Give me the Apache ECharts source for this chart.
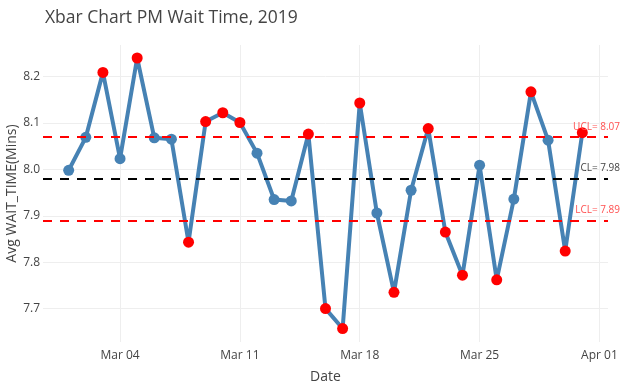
<!DOCTYPE html>
<html><head><meta charset="utf-8">
<script src="https://cdn.jsdelivr.net/npm/echarts@6/dist/echarts.min.js"></script>
<style>html,body{margin:0;padding:0;background:#fff}#c{width:624px;height:384px}</style>
</head><body><div id="c"></div>
<script>
// Day of March 2019 (Apr 01 = 32)
const days = [1,2,3,4,5,6,7,8,9,10,11,12,13,14,15,16,17,18,19,20,21,22,23,24,25,26,27,28,29,30,31];
const waitAvg = [7.998,8.069,8.209,8.023,8.240,8.068,8.065,7.843,8.103,8.122,8.101,8.035,7.935,7.932,8.076,7.700,7.657,8.143,7.906,7.735,7.955,8.088,7.865,7.772,8.009,7.762,7.936,8.167,8.063,7.824,8.079];
const UCL = 8.073, CL = 7.981, LCL = 7.889;
const xTickDays = [4,11,18,25,32];
const xTickLabels = ['Mar 04','Mar 11','Mar 18','Mar 25','Apr 01'];
const yTicks = [7.7,7.8,7.9,8.0,8.1,8.2];

const FONT = '"Open Sans", "Noto Sans", sans-serif';
const chart = echarts.init(document.getElementById('c'), null, {renderer:'canvas'});
const pts = days.map((d,i)=>[d, waitAvg[i]]);
const ctrlLine = (name, v, color, labelColor) => ({
  yAxis: v,
  lineStyle: {color: color, type: [9,8], width: 2},
  label: {show: true, position: 'insideEndTop', formatter: name + '= ' + v.toFixed(2),
    color: labelColor, fontSize: 10, fontFamily: FONT, offset: [14, -3], distance: 2}
});
chart.setOption({
  animation: false,
  backgroundColor: '#fff',
  title: {text: 'Xbar Chart PM Wait Time, 2019', left: 40, top: 4,
    textStyle: {fontFamily: FONT, fontSize: 17.5, fontWeight: 'normal', color: '#444'}},
  grid: {left: 43, right: 16, top: 45, bottom: 42, containLabel: false, outerBoundsMode: 'none'},
  xAxis: {
    type: 'value', min: -0.5, max: 32.5,
    name: 'Date', nameLocation: 'middle', nameGap: 28, nameMoveOverlap: false,
    nameTextStyle: {fontFamily: FONT, fontSize: 14, color: '#444'},
    axisLine: {show: false}, axisTick: {show: false, customValues: xTickDays},
    axisLabel: {customValues: xTickDays, color: '#444', fontFamily: FONT, fontSize: 12, margin: 8,
      formatter: v => xTickLabels[xTickDays.indexOf(Math.round(v))] || ''},
    splitLine: {show: true, lineStyle: {color: '#eeeeee', width: 1}}
  },
  yAxis: {
    type: 'value', min: 7.628, max: 8.268,
    name: 'Avg WAIT_TIME(Mins)', nameLocation: 'middle', nameGap: 24, nameMoveOverlap: false,
    nameTextStyle: {fontFamily: FONT, fontSize: 14, color: '#444'},
    axisLine: {show: false}, axisTick: {show: false, customValues: yTicks},
    axisLabel: {customValues: yTicks, color: '#444', fontFamily: FONT, fontSize: 12, margin: 3,
      formatter: v => v.toFixed(1)},
    splitLine: {show: true, lineStyle: {color: '#eeeeee', width: 1}}
  },
  series: [{
    type: 'line', data: pts, symbol: 'circle', symbolSize: 11,
    lineStyle: {color: '#4682B4', width: 4},
    itemStyle: {color: p => (p.value[1] > UCL || p.value[1] < LCL) ? '#ff0000' : '#4682B4'},
    z: 3,
    markLine: {symbol: 'none', silent: true, z: 4,
      data: [ctrlLine('UCL', UCL, '#ff0000', '#ff5050'), ctrlLine('CL', CL, '#000000', '#444'), ctrlLine('LCL', LCL, '#ff0000', '#ff5050')]}
  }]
});
</script></body></html>
